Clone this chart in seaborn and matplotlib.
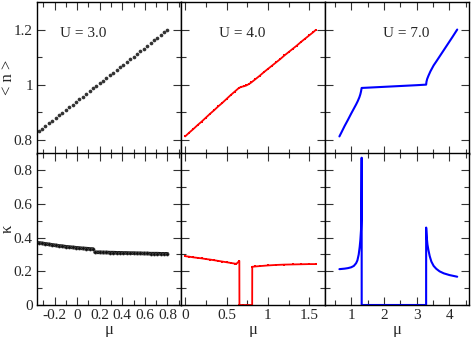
import matplotlib
matplotlib.use("Agg")
import matplotlib.pyplot as plt
from matplotlib.ticker import MultipleLocator, FuncFormatter
import seaborn as sns

# U = 3.0 : density and compressibility
mu3 = [-0.34, -0.31, -0.28, -0.25, -0.22, -0.19, -0.16, -0.13, -0.10, -0.07,
       -0.04, -0.01, 0.02, 0.05, 0.08, 0.11, 0.14, 0.17, 0.20, 0.23,
       0.26, 0.29, 0.32, 0.35, 0.38, 0.41, 0.44, 0.47, 0.50, 0.53,
       0.56, 0.59, 0.62, 0.65, 0.68, 0.71, 0.74, 0.77, 0.80]
n3 = [0.830, 0.840, 0.849, 0.859, 0.869, 0.879, 0.888, 0.898, 0.908, 0.917,
      0.927, 0.937, 0.947, 0.956, 0.966, 0.976, 0.986, 0.995, 1.005, 1.015,
      1.024, 1.034, 1.044, 1.054, 1.063, 1.073, 1.083, 1.093, 1.102, 1.112,
      1.122, 1.131, 1.141, 1.151, 1.161, 1.170, 1.180, 1.190, 1.200]
mu3_k1 = [-0.34, -0.31, -0.28, -0.25, -0.22, -0.19, -0.16, -0.13, -0.10, -0.07,
          -0.04, -0.01, 0.02, 0.05, 0.08, 0.11, 0.14]
k3_1 = [0.369, 0.366, 0.363, 0.360, 0.357, 0.354, 0.351, 0.349, 0.346, 0.344,
        0.342, 0.340, 0.338, 0.336, 0.335, 0.333, 0.332]
mu3_k2 = [0.16, 0.20, 0.23, 0.26, 0.29, 0.32, 0.35, 0.38, 0.41, 0.44, 0.47,
          0.50, 0.53, 0.56, 0.59, 0.62, 0.65, 0.68, 0.71, 0.74, 0.77, 0.80]
k3_2 = [0.313, 0.313, 0.312, 0.312, 0.311, 0.311, 0.310, 0.310, 0.309, 0.309, 0.308,
        0.308, 0.307, 0.307, 0.306, 0.306, 0.305, 0.305, 0.305, 0.304, 0.304, 0.304]

# U = 4.0
mu4 = [0.00, 0.05, 0.10, 0.15, 0.20, 0.25, 0.30, 0.35, 0.40, 0.45, 0.50, 0.55,
       0.60, 0.65, 0.68, 0.71, 0.74, 0.77, 0.80, 0.85, 0.90, 0.95, 1.00, 1.05,
       1.10, 1.15, 1.20, 1.25, 1.30, 1.35, 1.40, 1.45, 1.50, 1.55, 1.58]
n4 = [0.812, 0.826, 0.839, 0.853, 0.866, 0.880, 0.894, 0.907, 0.921, 0.934, 0.948, 0.962,
      0.975, 0.988, 0.992, 0.994, 0.997, 1.002, 1.008, 1.020, 1.032, 1.045, 1.057, 1.069,
      1.081, 1.093, 1.106, 1.118, 1.130, 1.142, 1.155, 1.167, 1.179, 1.191, 1.199]
mu4_k = [0.00, 0.05, 0.10, 0.15, 0.20, 0.25, 0.30, 0.35, 0.40, 0.45, 0.50, 0.55,
         0.60, 0.62, 0.655, 0.656, 0.70, 0.75, 0.81, 0.811, 0.85, 0.90, 1.00, 1.10,
         1.20, 1.30, 1.40, 1.50, 1.58]
k4 = [0.290, 0.287, 0.283, 0.280, 0.277, 0.273, 0.270, 0.266, 0.262, 0.258, 0.254, 0.250,
      0.246, 0.245, 0.262, 0.0, 0.0, 0.0, 0.0, 0.227, 0.229, 0.231, 0.235, 0.238,
      0.240, 0.241, 0.242, 0.243, 0.243]

# U = 7.0
mu7 = [0.64, 0.70, 0.80, 0.90, 1.00, 1.10, 1.15, 1.20, 1.25, 1.28, 1.30, 1.32,
       1.50, 2.00, 2.50, 3.00, 3.29, 3.30, 3.32, 3.36, 3.42, 3.52, 3.60, 3.70,
       3.80, 3.90, 4.00, 4.10, 4.24]
n7 = [0.812, 0.826, 0.850, 0.872, 0.895, 0.917, 0.928, 0.940, 0.954, 0.965, 0.975, 0.988,
      0.989, 0.992, 0.995, 0.998, 1.000, 1.010, 1.020, 1.032, 1.048, 1.070, 1.084, 1.102,
      1.120, 1.138, 1.156, 1.174, 1.200]
mu7_k = [0.64, 0.80, 0.90, 1.00, 1.08, 1.15, 1.19, 1.23, 1.26, 1.28, 1.30, 1.31,
         1.32, 1.321, 2.00, 2.50, 3.00, 3.29, 3.291, 3.31, 3.33, 3.36, 3.40, 3.45,
         3.52, 3.60, 3.70, 3.83, 4.00, 4.24]
k7 = [0.213, 0.216, 0.219, 0.224, 0.232, 0.248, 0.265, 0.300, 0.345, 0.385, 0.444, 0.520,
      0.875, 0.0, 0.0, 0.0, 0.0, 0.0, 0.460, 0.400, 0.360, 0.326, 0.290, 0.258,
      0.232, 0.215, 0.200, 0.188, 0.178, 0.168]

labels = ["U = 3.0", "U = 4.0", "U = 7.0"]
label_x = [0.16, 0.266, 0.40]

sns.set_style("ticks")
plt.rcParams["font.family"] = ["Liberation Serif", "DejaVu Serif"]
plt.rcParams["axes.unicode_minus"] = False
plt.rcParams["font.size"] = 11

fig, axes = plt.subplots(2, 3, figsize=(4.71, 3.37), dpi=100, sharex="col", sharey="row")
fig.subplots_adjust(left=37/471, right=469/471, top=1 - 2/337, bottom=1 - 305/337,
                    wspace=0, hspace=0)

# top row: density
sns.scatterplot(x=mu3, y=n3, ax=axes[0, 0], color="#333333", s=7, linewidth=0)
sns.lineplot(x=mu4, y=n4, ax=axes[0, 1], color="red", lw=1.3, marker="s", markersize=2,
             markeredgewidth=0, estimator=None, sort=False)
sns.lineplot(x=mu7, y=n7, ax=axes[0, 2], color="blue", lw=1.5, estimator=None, sort=False)

# bottom row: compressibility
for xs, ys in [(mu3_k1, k3_1), (mu3_k2, k3_2)]:
    sns.lineplot(x=xs, y=ys, ax=axes[1, 0], color="#111111", lw=2.6, marker="o",
                 markersize=2.4, markeredgewidth=0.3, markeredgecolor="#666666",
                 markerfacecolor="#111111", estimator=None, sort=False)
sns.lineplot(x=mu4_k, y=k4, ax=axes[1, 1], color="red", lw=1.3, marker="s", markersize=2,
             markeredgewidth=0, estimator=None, sort=False)
sns.lineplot(x=mu7_k, y=k7, ax=axes[1, 2], color="blue", lw=1.5, estimator=None, sort=False)

fmt = FuncFormatter(lambda v, p: "%g" % round(v, 6))

xlims = [(-0.355, 0.92), (-0.05, 1.69), (0.2, 4.6)]
xmaj = [0.2, 0.5, 1.0]
for j in range(3):
    for i in range(2):
        ax = axes[i, j]
        ax.set_xlim(*xlims[j])
        ax.xaxis.set_major_locator(MultipleLocator(xmaj[j]))
        ax.xaxis.set_minor_locator(MultipleLocator(xmaj[j] / 2))
        ax.xaxis.set_major_formatter(fmt)
        ax.yaxis.set_major_formatter(fmt)
        ax.yaxis.set_major_locator(MultipleLocator(0.2))
        ax.yaxis.set_minor_locator(MultipleLocator(0.1))
        ax.tick_params(which="both", direction="in", top=True, right=True,
                       width=0.8, color="#333333", labelsize=11, pad=3)
        ax.tick_params(which="major", length=5.8)
        ax.tick_params(which="minor", length=3.6)
        for sp in ax.spines.values():
            sp.set_linewidth(1.0)
            sp.set_color("black")
        ax.set_xlabel("")
        ax.set_ylabel("")
    axes[0, j].text(label_x[j], 0.795, labels[j], transform=axes[0, j].transAxes,
                    ha="left", va="center", fontsize=11)
    axes[1, j].set_xlabel("μ", fontsize=12)
    axes[1, j].xaxis.set_label_coords(0.5, -0.165)
    axes[1, j].xaxis.label.set_va("center")

axes[0, 0].set_ylim(0.75, 1.3)
axes[1, 0].set_ylim(0, 0.9)
axes[0, 0].set_ylabel("< n >", fontsize=12)
axes[1, 0].set_ylabel("κ", fontsize=12)
axes[0, 0].yaxis.set_label_coords(-0.20, 0.5)
axes[1, 0].yaxis.set_label_coords(-0.20, 0.5)
axes[0, 0].yaxis.label.set_va("center")
axes[1, 0].yaxis.label.set_va("center")

fig.savefig("out.png", dpi=100)
